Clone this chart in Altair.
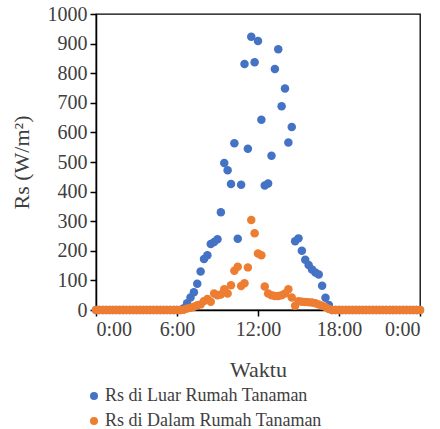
import altair as alt
import pandas as pd

S1 = "Rs di Luar Rumah Tanaman"
S2 = "Rs di Dalam Rumah Tanaman"

NIGHT_TIMES = [
    "00:00", "00:15", "00:30", "00:45", "01:00", "01:15", "01:30", "01:45",
    "02:00", "02:15", "02:30", "02:45", "03:00", "03:15", "03:30", "03:45",
    "04:00", "04:15", "04:30", "04:45", "05:00", "05:15", "05:30", "05:45",
    "06:00", "06:15",
    "17:30", "17:45", "18:00", "18:15", "18:30", "18:45", "19:00", "19:15",
    "19:30", "19:45", "20:00", "20:15", "20:30", "20:45", "21:00", "21:15",
    "21:30", "21:45", "22:00", "22:15", "22:30", "22:45", "23:00", "23:15",
    "23:30", "23:45", "24:00",
]
NIGHT_VALUE = 0

DAY_TIMES = [
    "06:30", "06:45", "07:00", "07:15", "07:30", "07:45", "08:00", "08:15",
    "08:30", "08:45", "09:00", "09:15", "09:30", "09:45", "10:00", "10:15",
    "10:30", "10:45", "11:00", "11:15", "11:30", "11:45", "12:00", "12:15",
    "12:30", "12:45", "13:00", "13:15", "13:30", "13:45", "14:00", "14:15",
    "14:30", "14:45", "15:00", "15:15", "15:30", "15:45", "16:00", "16:15",
    "16:30", "16:45", "17:00", "17:15",
]

RS_LUAR = [6, 23, 42, 60, 89, 130, 172, 185, 223, 230, 239, 330, 497, 472, 426,
           563, 241, 423, 831, 545, 923, 837, 909, 643, 421, 427, 521, 814, 881,
           688, 748, 566, 618, 232, 242, 200, 170, 152, 137, 127, 120, 82, 41, 17]

RS_DALAM = [1, 5, 8, 11, 16, 19, 30, 37, 28, 56, 50, 52, 70, 56, 84, 133, 146,
            81, 90, 144, 304, 259, 191, 185, 79, 56, 50, 47, 47, 50, 56, 70, 42,
            14, 30, 28, 27, 26, 25, 23, 19, 14, 10, 3]

X_TICKS = [0, 6, 12, 18, 24]
Y_TICKS = [0, 100, 200, 300, 400, 500, 600, 700, 800, 900, 1000]
COLORS = ["#4472C4", "#ED7D31"]


def to_hours(t):
    h, m = t.split(":")
    return int(h) + int(m) / 60.0


rows = []
for name, vals in [(S1, RS_LUAR), (S2, RS_DALAM)]:
    for t in NIGHT_TIMES:
        rows.append({"series": name, "hour": to_hours(t), "rs": NIGHT_VALUE})
    for t, v in zip(DAY_TIMES, vals):
        rows.append({"series": name, "hour": to_hours(t), "rs": v})
df = pd.DataFrame(rows)

FONT = "Liberation Serif"
TXT = "#404040"

chart = alt.Chart(df).mark_circle(size=72, opacity=1).encode(
    x=alt.X("hour:Q",
            scale=alt.Scale(domain=[0, 24], nice=False, zero=False),
            axis=alt.Axis(values=X_TICKS,
                          labelExpr="datum.value == 24 ? '0:00' : datum.value + ':00'",
                          title="Waktu", grid=False, titlePadding=20,
                          labelFont=FONT, titleFont=FONT)),
    y=alt.Y("rs:Q",
            scale=alt.Scale(domain=[0, 1000], nice=False),
            axis=alt.Axis(values=Y_TICKS, format="d", title="Rs (W/m²)",
                          grid=False, titlePadding=14,
                          labelFont=FONT, titleFont=FONT)),
    color=alt.Color("series:N",
                    scale=alt.Scale(domain=[S1, S2], range=COLORS),
                    legend=alt.Legend(title=None, orient="none", legendX=-11,
                                      legendY=373, direction="vertical",
                                      symbolType="circle", symbolSize=64,
                                      labelFont=FONT, labelFontSize=18,
                                      labelColor=TXT, rowPadding=7,
                                      labelOffset=2,
                                      labelLimit=400, symbolStrokeWidth=0)),
).properties(
    width=324, height=296, autosize="none",
    padding={"left": 96, "top": 14, "right": 20, "bottom": 119},
).configure(
    font=FONT
).configure_view(
    stroke="black", strokeWidth=1.3
).configure_axis(
    domainColor="black", domainWidth=1.5, tickColor="black", tickWidth=1.5,
    tickSize=6, labelFont=FONT, labelFontSize=20, labelColor=TXT, labelPadding=3,
    titleFont=FONT, titleFontSize=22, titleFontWeight="normal", titleColor=TXT,
)

chart.save("out.html", embed_options={"renderer": "svg", "actions": False})
